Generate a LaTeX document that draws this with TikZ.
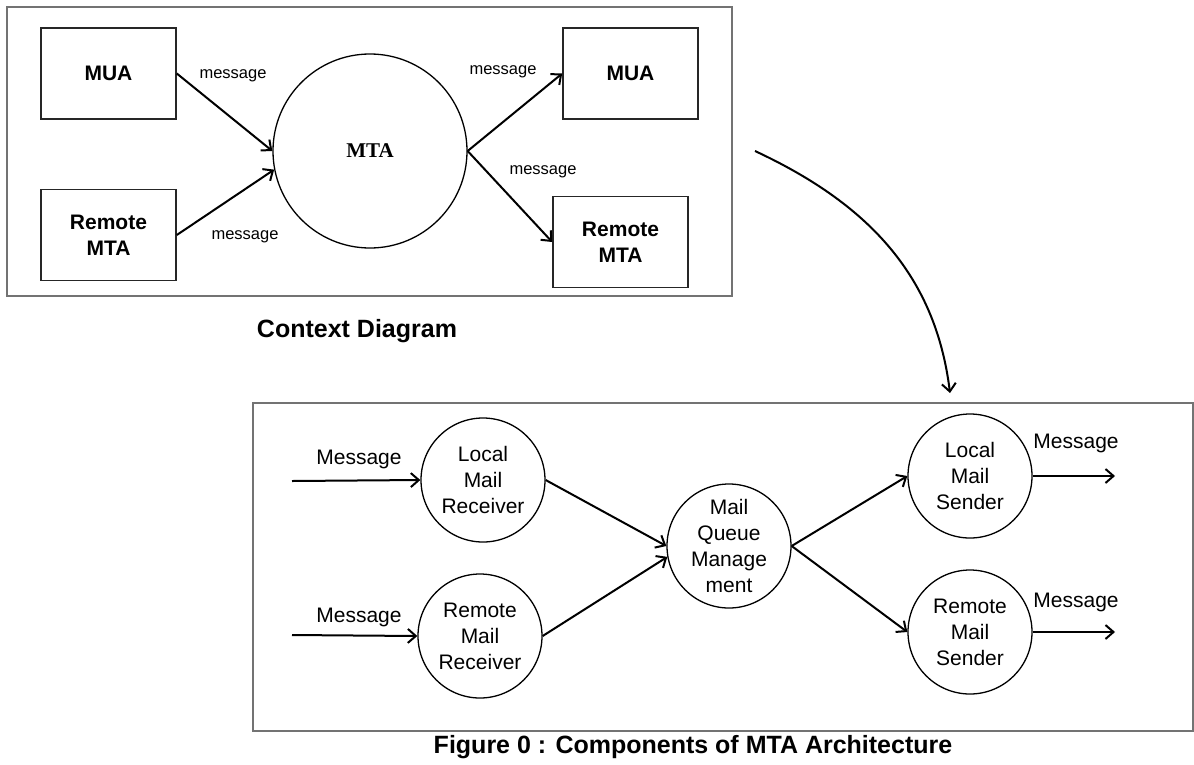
\documentclass[tikz,border=0pt]{standalone}
\usepackage{fontspec}
\setmainfont{Liberation Sans}
\newfontfamily\serifbold{Liberation Serif}
\usetikzlibrary{arrows.meta}
\tikzset{
  frame/.style={draw=black!55, line width=2.5pt},
  ctxbox/.style={draw=black!85, line width=1.6pt, rectangle, minimum width=135pt,
    minimum height=91pt, inner sep=0pt, font=\fontsize{21}{26}\selectfont\bfseries, align=center},
  hub/.style={draw, line width=1.3pt, circle, minimum size=194pt, inner sep=0pt,
    font=\fontsize{21}{24}\selectfont\serifbold\bfseries},
  bubble/.style={draw, line width=1.3pt, circle, minimum size=124pt, inner sep=0pt,
    font=\fontsize{21}{26}\selectfont, align=center},
  flow/.style={line width=2pt, -{Straight Barb[length=8pt,width=14pt,line width=2pt]}},
  smalllbl/.style={font=\fontsize{16.5}{20}\selectfont, inner sep=0pt},
  lbl/.style={font=\fontsize{21}{26}\selectfont, inner sep=0pt},
  title/.style={font=\fontsize{25}{28}\selectfont\bfseries, inner sep=0pt}
}
\begin{document}
\begin{tikzpicture}[x=1pt, y=-1pt]
\useasboundingbox (0,0) rectangle (1194,764);
\fill[white] (0,0) rectangle (1194,764);

% context diagram
\draw[frame] (7,7) rectangle (732,296);
\node[ctxbox] (mua1) at (108.5,73.5) {MUA};
\node[ctxbox] (rmta1) at (108.5,235) {Remote\\MTA};
\node[hub] (mta) at (370,151) {MTA};
\node[ctxbox] (mua2) at (630.5,73.5) {MUA};
\node[ctxbox] (rmta2) at (620.5,242) {Remote\\MTA};

\draw[flow] (mua1.east) -- (mta.west);
\draw[flow] (rmta1.east) -- (mta.191);
\draw[flow] (mta.east) -- (mua2.west);
\draw[flow] (mta.east) -- (rmta2.west);

\node[smalllbl] (m1) at (233,76) {message};
\node[smalllbl] (m2) at (245,237) {message};
\node[smalllbl] (m3) at (503,72) {message};
\node[smalllbl] (m4) at (543,172) {message};

\node[title] (ctxtitle) at (357,331) {Context Diagram};

% refinement arrow
\coordinate (cstart) at (755,151);
\coordinate (cend) at (950,393);
\draw[flow] (cstart) to[out=-25, in=97] (cend);

% MTA architecture
\draw[frame] (253,403) rectangle (1193,731);
\node[bubble] (lmr) at (483,480) {Local\\Mail\\Receiver};
\node[bubble] (rmr) at (480,636) {Remote\\Mail\\Receiver};
\node[bubble] (mqm) at (729,546) {Mail\\Queue\\Manage\\ment};
\node[bubble] (lms) at (970,476) {Local\\Mail\\Sender};
\node[bubble] (rms) at (970,632) {Remote\\Mail\\Sender};

\coordinate (in1) at (292,481);
\coordinate (in2) at (292,635);
\coordinate (out1) at (1115,476);
\coordinate (out2) at (1115,632);

\draw[flow] (in1) -- (lmr.west);
\draw[flow] (in2) -- (rmr.west);
\draw[flow] (lmr.east) -- (mqm.180);
\draw[flow] (rmr.east) -- (mqm.190);
\draw[flow] (mqm.east) -- (lms.west);
\draw[flow] (mqm.east) -- (rms.west);
\draw[flow] (lms.east) -- (out1);
\draw[flow] (rms.east) -- (out2);

\node[lbl] (msg1) at (359,459) {Message};
\node[lbl] (msg2) at (359,617) {Message};
\node[lbl] (msg3) at (1076,443) {Message};
\node[lbl] (msg4) at (1076,602) {Message};

\node[title] (figtitle) at (693,747) {Figure 0 : Components of MTA Architecture};
\end{tikzpicture}
\end{document}
